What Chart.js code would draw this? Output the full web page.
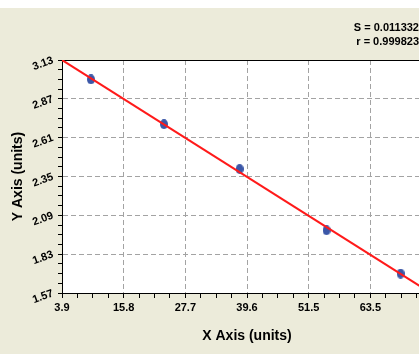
<!DOCTYPE html>
<html>
<head>
<meta charset="utf-8">
<script src="https://cdn.jsdelivr.net/npm/chart.js@4.4.1/dist/chart.umd.min.js"></script>
<style>
  html, body { margin: 0; padding: 0; width: 419px; height: 358px; overflow: hidden; background: #ffffff; }
  #wrap { position: relative; width: 460px; height: 358px; }
  #c { position: absolute; left: 0; top: 0; }
  .stat { position: absolute; right: 41px; font: bold 11px "Liberation Sans", Arial, sans-serif; color: #000; white-space: nowrap; line-height: 14px; }
</style>
</head>
<body>
<div id="wrap">
  <canvas id="c" width="460" height="358"></canvas>
  <div class="stat" style="top:20px;">S = 0.011332</div>
  <div class="stat" style="top:34px;">r = 0.999823</div>
</div>
<script>
// ---- data ----
const pointsX = [9.5, 23.6, 38.2, 55.0, 69.3];
const pointsY = [3.00, 2.70, 2.40, 1.99, 1.70];
const fitX = [3.9, 75.37];
const fitY = [3.13, 1.565];
const xTickLabels = ['3.9', '15.8', '27.7', '39.6', '51.5', '63.5', '75.4'];
const yTickLabels = ['1.57', '1.83', '2.09', '2.35', '2.61', '2.87', '3.13'];
const xMin = 3.9, xStep = 11.912;
const yMin = 1.57, yStep = 0.26;
const minorPerMajor = 4;

const FONT = '"Liberation Sans", Arial, sans-serif';

// ellipse point style
function makeEllipse(w, h, color) {
  const c = document.createElement('canvas');
  c.width = w; c.height = h;
  const g = c.getContext('2d');
  g.fillStyle = color;
  g.beginPath();
  g.ellipse(w / 2, h / 2, w / 2, h / 2, 0, 0, Math.PI * 2);
  g.fill();
  return c;
}
const dot = makeEllipse(8, 10, '#3B57A8');

function buildTicks(min, step, count) {
  const t = [];
  const n = (count - 1) * minorPerMajor;
  for (let i = 0; i <= n; i++) t.push({ value: min + i * step / minorPerMajor });
  return t;
}

const bgPlugin = {
  id: 'bg',
  beforeDraw(chart) {
    const { ctx, width, height, chartArea } = chart;
    ctx.save();
    ctx.fillStyle = '#ffffff';
    ctx.fillRect(0, 0, width, height);
    ctx.fillStyle = '#ECEBDA';
    ctx.fillRect(0, 8, width, 346);
    ctx.fillStyle = '#ffffff';
    ctx.fillRect(chartArea.left, chartArea.top, chartArea.right - chartArea.left, chartArea.bottom - chartArea.top);
    ctx.restore();
  },
  beforeDatasetsDraw(chart) {
    const { ctx, chartArea } = chart;
    ctx.save();
    ctx.strokeStyle = '#000';
    ctx.lineWidth = 1;
    ctx.beginPath();
    ctx.moveTo(chartArea.left, chartArea.top + 0.5);
    ctx.lineTo(chartArea.right, chartArea.top + 0.5);
    ctx.moveTo(chartArea.right - 0.5, chartArea.top);
    ctx.lineTo(chartArea.right - 0.5, chartArea.bottom);
    ctx.stroke();
    ctx.restore();
  }
};

const gridCommon = (len) => ({
  color: (ctx) => (ctx.index % minorPerMajor === 0 ? '#A3A3A3' : 'rgba(0,0,0,0)'),
  tickColor: '#000',
  tickLength: len,
  tickBorderDash: [],
  lineWidth: 1
});

new Chart(document.getElementById('c'), {
  type: 'scatter',
  data: {
    datasets: [
      {
        label: 'fit',
        data: fitX.map((x, i) => ({ x, y: fitY[i] })),
        showLine: true,
        borderColor: '#FF1A1A',
        borderWidth: 2,
        pointRadius: 0,
        fill: false
      },
      {
        label: 'points',
        data: pointsX.map((x, i) => ({ x, y: pointsY[i] })),
        pointStyle: dot,
        pointRadius: 5,
        backgroundColor: '#3B57A8',
        borderColor: '#3B57A8'
      }
    ]
  },
  options: {
    responsive: false,
    animation: false,
    devicePixelRatio: 1,
    layout: { padding: { top: 60, right: 28, bottom: 0, left: 0 } },
    plugins: { legend: { display: false }, tooltip: { enabled: false } },
    scales: {
      x: {
        type: 'linear',
        min: xMin,
        max: xMin + (xTickLabels.length - 1) * xStep,
        afterBuildTicks: (s) => { s.ticks = buildTicks(xMin, xStep, xTickLabels.length); },
        afterFit: (s) => { s.height = 65; },
        grid: gridCommon(5),
        border: { display: true, color: '#000', width: 1, dash: [5, 3] },
        ticks: {
          autoSkip: false,
          maxRotation: 0,
          minRotation: 0,
          padding: 3,
          color: '#000',
          font: { family: FONT, size: 11, weight: 'bold' },
          callback: (v, i) => (i % minorPerMajor === 0 ? xTickLabels[i / minorPerMajor] : '')
        },
        title: {
          display: true,
          text: 'X Axis (units)',
          color: '#000',
          font: { family: FONT, size: 14, weight: 'bold' },
          padding: { top: 0, bottom: 13 }
        }
      },
      y: {
        type: 'linear',
        min: yMin,
        max: yMin + (yTickLabels.length - 1) * yStep,
        afterBuildTicks: (s) => { s.ticks = buildTicks(yMin, yStep, yTickLabels.length); },
        afterFit: (s) => { s.width = 62; },
        grid: gridCommon(4),
        border: { display: true, color: '#000', width: 1, dash: [5, 3] },
        ticks: {
          autoSkip: false,
          minRotation: 20,
          maxRotation: 20,
          padding: 5,
          color: '#000',
          font: { family: FONT, size: 11, weight: 'bold' },
          callback: (v, i) => (i % minorPerMajor === 0 ? yTickLabels[i / minorPerMajor] : '')
        },
        title: {
          display: true,
          text: 'Y Axis (units)',
          color: '#000',
          font: { family: FONT, size: 14, weight: 'bold' },
          padding: { top: 10, bottom: 0 }
        }
      }
    }
  },
  plugins: [bgPlugin]
});
</script>
</body>
</html>
